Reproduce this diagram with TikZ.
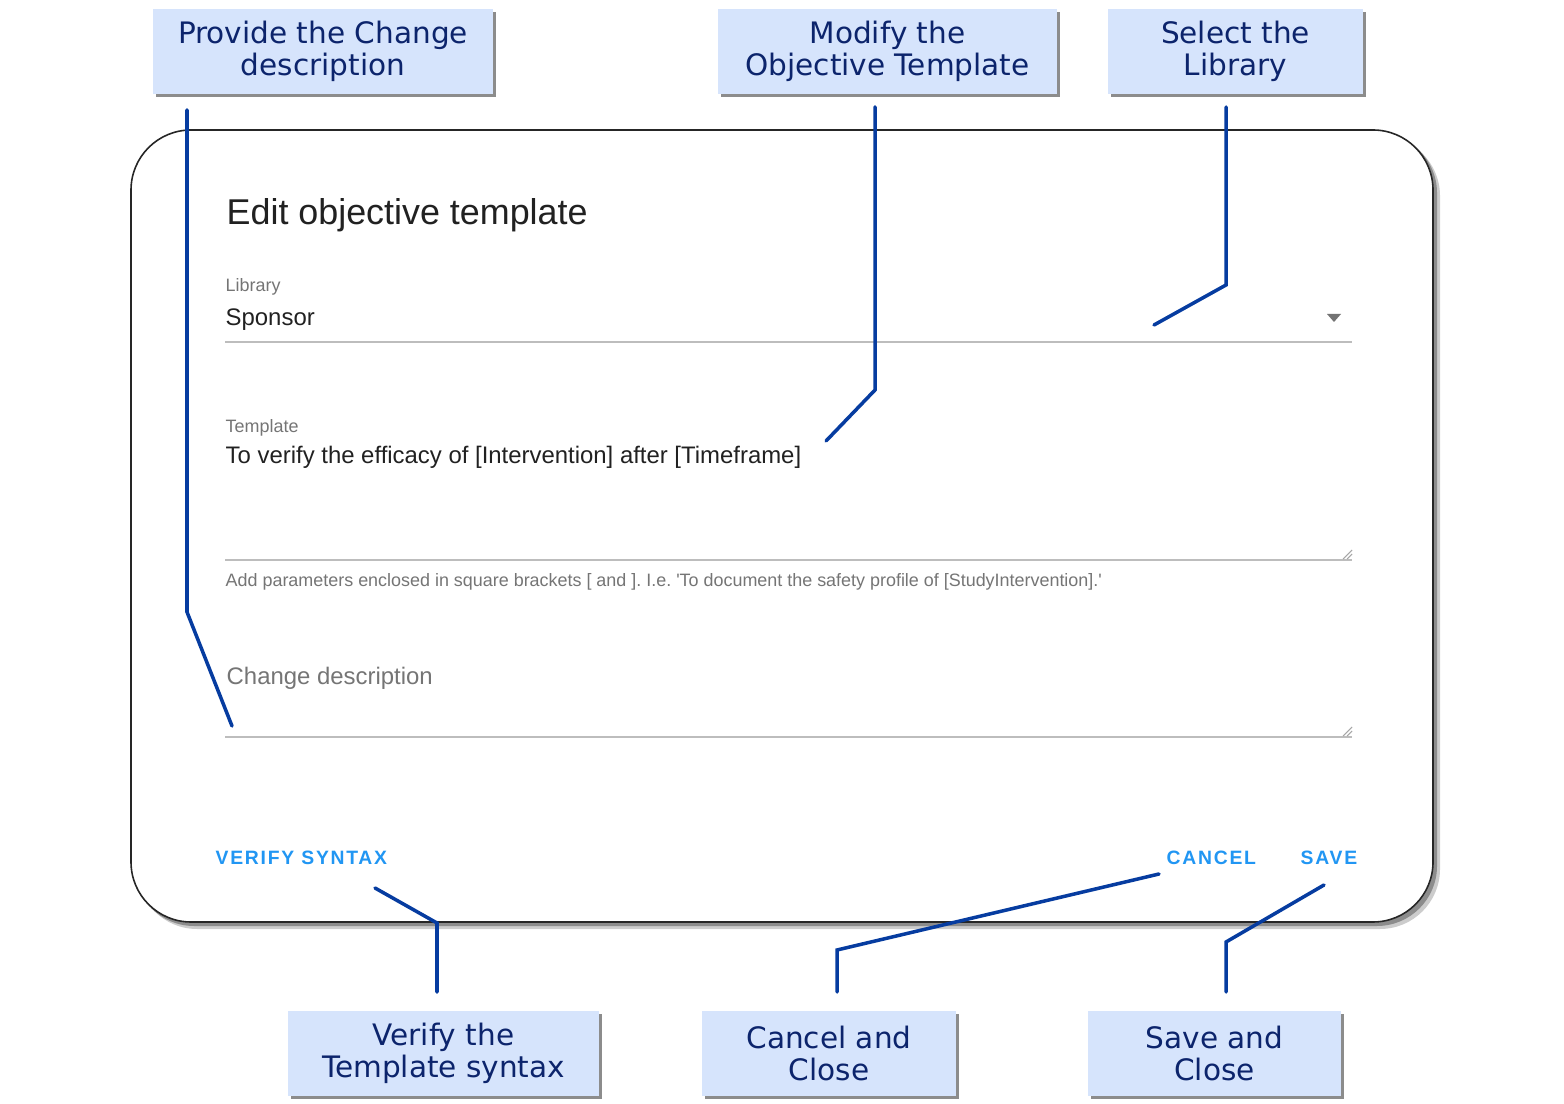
\documentclass[tikz,border=0pt]{standalone}
\usepackage{fontspec}
\setmainfont{Liberation Sans}
\newfontfamily\calloutfont{DejaVu Sans}
\newfontfamily\buttonfont[LetterSpace=9]{Liberation Sans}
\usetikzlibrary{calc,shadows}
\definecolor{calloutfill}{RGB}{214,228,252}
\definecolor{callouttext}{RGB}{12,36,108}
\definecolor{linkblue}{RGB}{6,60,160}
\definecolor{btnblue}{RGB}{33,150,243}
\definecolor{uitext}{RGB}{33,33,33}
\definecolor{uigray}{RGB}{117,117,117}
\definecolor{uiline}{RGB}{189,189,189}
\frenchspacing

\begin{document}
\begin{tikzpicture}[x=0.01cm, y=-0.01cm,
		callout/.style={fill=calloutfill, text=callouttext, align=center, inner sep=0pt, minimum height=0.85cm,
			font=\calloutfont\fontsize{8.4}{9.1}\selectfont,
			drop shadow={shadow xshift=0.9pt, shadow yshift=-0.9pt, fill=black!45, opacity=1}},
		link/.style={line width=1pt, color=linkblue, line cap=round},
		uilabel/.style={anchor=base west, inner sep=0pt, text=uigray, font=\fontsize{5.1}{6}\selectfont},
		uivalue/.style={anchor=base west, inner sep=0pt, text=uitext, font=\fontsize{6.8}{8}\selectfont},
		uibutton/.style={anchor=base west, inner sep=0pt, text=btnblue, font=\buttonfont\bfseries\fontsize{5.5}{6}\selectfont},
		uiline/.style={line width=0.55pt, color=uiline}]
			%%%%% START %%%%%
			
			\useasboundingbox (0, 0) rectangle (1564, 1104);
			
			% dialog with its shadow
			\fill[black!20, rounded corners=0.6cm] (137, 136) rectangle (1440, 929);
			\fill[black!45, rounded corners=0.6cm] (134, 133) rectangle (1437, 926);
			\draw[fill=white, draw=black!85, line width=0.45pt, rounded corners=0.6cm] (131, 130) rectangle (1433, 922);
			
			\node[anchor=base west, inner sep=0pt, text=uitext, font=\fontsize{10.2}{12}\selectfont] (title) at (226, 225) {Edit objective template};
			
			\node[uilabel] (libLabel) at (225, 292) {Library};
			\node[uivalue] (libValue) at (225, 326) {Sponsor};
			\fill[black!55] (1327, 314) -- (1341, 314) -- (1334, 322) -- cycle;
			\draw[uiline] (225, 342) -- (1352, 342);
			
			\node[uilabel] (tplLabel) at (225, 433) {Template};
			\node[uivalue] (tplValue) at (225, 464) {To verify the efficacy of [Intervention] after [Timeframe]};
			\draw[uiline] (225, 560) -- (1352, 560);
			\draw[line width=0.3pt, color=black!35] (1343, 559) -- (1352, 550) (1347, 559) -- (1352, 554);
			\node[uilabel] (tplHint) at (225, 587) {Add parameters enclosed in square brackets [ and ]. I.e. \textquotesingle To document the safety profile of [StudyIntervention].\textquotesingle};
			
			\node[uivalue, text=uigray] (chgValue) at (226, 685) {Change description};
			\draw[uiline] (225, 737) -- (1352, 737);
			\draw[line width=0.3pt, color=black!35] (1343, 736) -- (1352, 727) (1347, 736) -- (1352, 731);
			
			\node[uibutton] (btnVerify) at (215, 864) {VERIFY SYNTAX};
			\node[uibutton] (btnCancel) at (1166, 864) {CANCEL};
			\node[uibutton] (btnSave) at (1300, 864) {SAVE};
			
			% callouts
			\node[callout, minimum width=3.4cm] (provide) at (323, 51.5) {Provide the Change\\description};
			\node[callout, minimum width=3.39cm] (modify) at (887.5, 51.5) {Modify the\\Objective Template};
			\node[callout, minimum width=2.55cm] (select) at (1235.5, 51.5) {Select the\\Library};
			\node[callout, minimum width=3.11cm] (verify) at (443.5, 1053.5) {Verify the\\Template syntax};
			\node[callout, minimum width=2.54cm] (cancel) at (829, 1053.5) {Cancel and\\Close};
			\node[callout, minimum width=2.53cm] (save) at (1214.5, 1053.5) {Save and\\Close};
			
			% connectors
			\coordinate (provideTop) at (187, 110);
			\coordinate (provideBend) at (187, 612);
			\coordinate (provideTip) at (232, 726);
			\draw[link] (provideTop) -- (provideBend) -- (provideTip);
			
			\coordinate (modifyTop) at (875, 107);
			\coordinate (modifyBend) at (875, 390);
			\coordinate (modifyTip) at (826, 441);
			\draw[link] (modifyTop) -- (modifyBend) -- (modifyTip);
			
			\coordinate (selectTop) at (1226, 107);
			\coordinate (selectBend) at (1226, 285);
			\coordinate (selectTip) at (1154, 325);
			\draw[link] (selectTop) -- (selectBend) -- (selectTip);
			
			\coordinate (verifyTip) at (375, 888);
			\coordinate (verifyBend) at (437, 923);
			\coordinate (verifyFoot) at (437, 992);
			\draw[link] (verifyTip) -- (verifyBend) -- (verifyFoot);
			
			\coordinate (cancelTip) at (1159, 874);
			\coordinate (cancelBend) at (837, 950);
			\coordinate (cancelFoot) at (837, 992);
			\draw[link] (cancelTip) -- (cancelBend) -- (cancelFoot);
			
			\coordinate (saveTip) at (1324, 885);
			\coordinate (saveBend) at (1226, 942);
			\coordinate (saveFoot) at (1226, 992);
			\draw[link] (saveTip) -- (saveBend) -- (saveFoot);
			
			%%%%% END %%%%%
		\end{tikzpicture}
\end{document}
